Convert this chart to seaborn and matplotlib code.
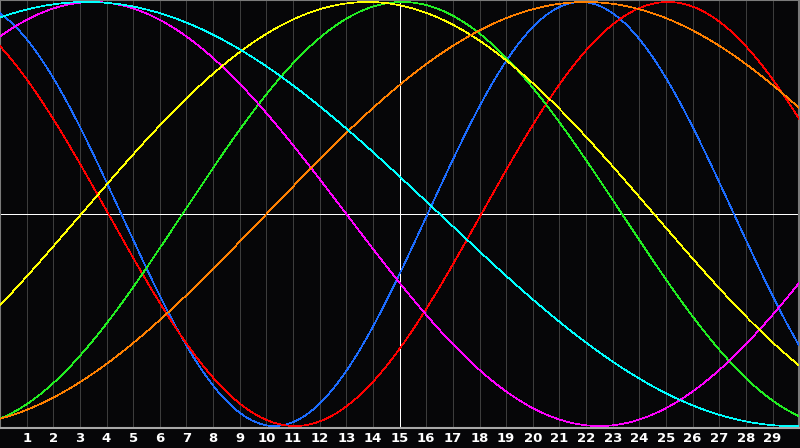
import numpy as np
import pandas as pd
import matplotlib
matplotlib.use('Agg')
import matplotlib.pyplot as plt
import seaborn as sns

# biorhythm cycles: period (days), day of the peak, colour
cycles = ['physical', 'emotional', 'intellectual', 'intuitive', 'aesthetic', 'awareness', 'spiritual']
periods = [23, 28, 33, 38, 43, 48, 53]
peak_day = [21.8, 25.07, 15.1, 3.5, 13.8, 22.0, 3.25]
colors = ['#1c6cff', '#ff0000', '#22ee22', '#ff00ff', '#ffff00', '#ff8000', '#00ffff']

day_labels = [str(d) for d in range(1, 30)]
today = 15

# build long-form table of the curves
t = np.linspace(0, 30, 1201)
rows = []
for name, p, pk in zip(cycles, periods, peak_day):
    v = np.cos(2 * np.pi * (t - pk) / p)
    rows.append(pd.DataFrame({'day': t, 'value': v, 'cycle': name}))
df = pd.concat(rows, ignore_index=True)

sns.set_style('dark')
fig = plt.figure(figsize=(8, 4.48), dpi=100)
fig.patch.set_facecolor('#060608')
ax = fig.add_axes([0.0, 20 / 448, 0.999, 428 / 448])
ax.set_facecolor('#060608')

# day grid
for d in range(1, 30):
    ax.axvline(d, color='#3c3c3c', lw=0.5, zorder=1, antialiased=False)

ax.axvline(today, color='white', lw=0.5, zorder=2, antialiased=False)
ax.axhline(0, color='white', lw=0.5, zorder=2, antialiased=False)

sns.lineplot(
    data=df, x='day', y='value', hue='cycle',
    palette=dict(zip(cycles, colors)), hue_order=cycles,
    estimator=None, legend=False, lw=0.5, ax=ax, zorder=3,
    antialiased=False
)

ax.set_xlim(0, 30)
ax.set_ylim(-1.0094, 1.0094)
ax.set_xticks(range(1, 30))
ax.set_xticklabels(day_labels, color='white', fontweight='bold', fontsize=9.5)
ax.tick_params(axis='x', length=0, pad=3)
ax.set_yticks([])
ax.set_xlabel('')
ax.set_ylabel('')
ax.grid(False)

for side in ['left', 'top', 'right']:
    ax.spines[side].set_visible(True)
    ax.spines[side].set_color('#7a7a7a')
    ax.spines[side].set_linewidth(1.5)
ax.spines['bottom'].set_color('#a8a8a8')
ax.spines['bottom'].set_linewidth(1.5)

plt.savefig('out.png', dpi=100, facecolor=fig.get_facecolor())
